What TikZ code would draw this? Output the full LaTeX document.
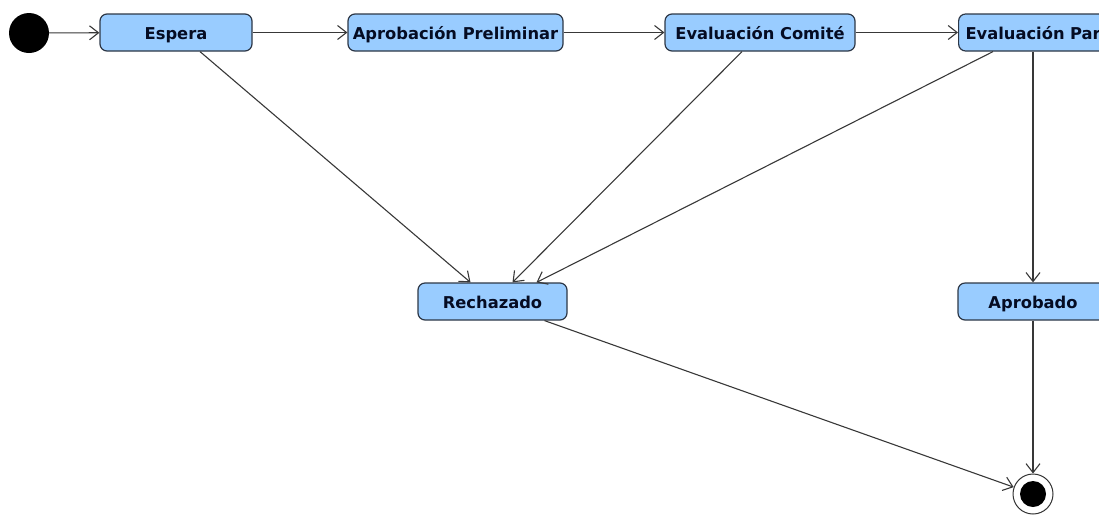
\documentclass[tikz,border=0pt]{standalone}
\usepackage{fontspec}
\setmainfont{DejaVu Sans}
\usetikzlibrary{arrows.meta}
\definecolor{boxfill}{RGB}{153,204,255}
\definecolor{boxdraw}{RGB}{45,55,70}
\definecolor{txt}{RGB}{5,12,35}
\begin{document}
\begin{tikzpicture}[x=1pt,y=-1pt,
 state/.style={draw=boxdraw, line width=1.2pt, fill=boxfill, rounded corners=7pt, minimum height=37pt, inner sep=0pt, text height=14.5pt, text depth=1.5pt, font=\bfseries\fontsize{16.3}{18}\selectfont, text=txt},
 flow/.style={draw=black!78, line width=1.1pt, -{Straight Barb[length=9pt,width=14pt,line width=1.1pt]}}]
\useasboundingbox (0,0) rectangle (1099,515);
\clip (0,0) rectangle (1099,515);
\node[circle, fill=black, minimum size=40pt, inner sep=0pt] (init) at (29,33) {};
\node[state, minimum width=152pt] (esp) at (176,32.5) {Espera};
\node[state, minimum width=215pt] (apre) at (455.5,32.5) {Aprobación Preliminar};
\node[state, minimum width=190pt] (ecom) at (760,32.5) {Evaluación Comité};
\node[state, anchor=west, minimum width=200pt, text width=186pt, align=left] (epar) at (958,32.5) {Evaluación Par};
\node[state, minimum width=149pt] (rec) at (492.5,301.5) {Rechazado};
\node[state, minimum width=150pt] (apr) at (1033,301.5) {Aprobado};
\node[circle, draw=black!80, line width=1pt, fill=white, minimum size=40pt, inner sep=0pt] (fin) at (1033,494) {};
\node[circle, fill=black, minimum size=26pt, inner sep=0pt] (finin) at (fin.center) {};
\draw[flow] (init) -- (esp);
\draw[flow] (esp) -- (apre);
\draw[flow] (apre) -- (ecom);
\draw[flow] (ecom) -- (epar.west);
\draw[flow] ([xshift=24pt]esp.south) -- ([xshift=-22pt]rec.north);
\draw[flow] ([xshift=-18pt]ecom.south) -- ([xshift=20pt]rec.north);
\draw[flow] ([xshift=35pt]epar.south west) -- ([xshift=44pt]rec.north);
\draw[flow] (epar.south west -| apr.north) -- (apr.north);
\draw[flow] ([xshift=52pt]rec.south) -- (fin);
\draw[flow] (apr) -- (fin);
\end{tikzpicture}
\end{document}
